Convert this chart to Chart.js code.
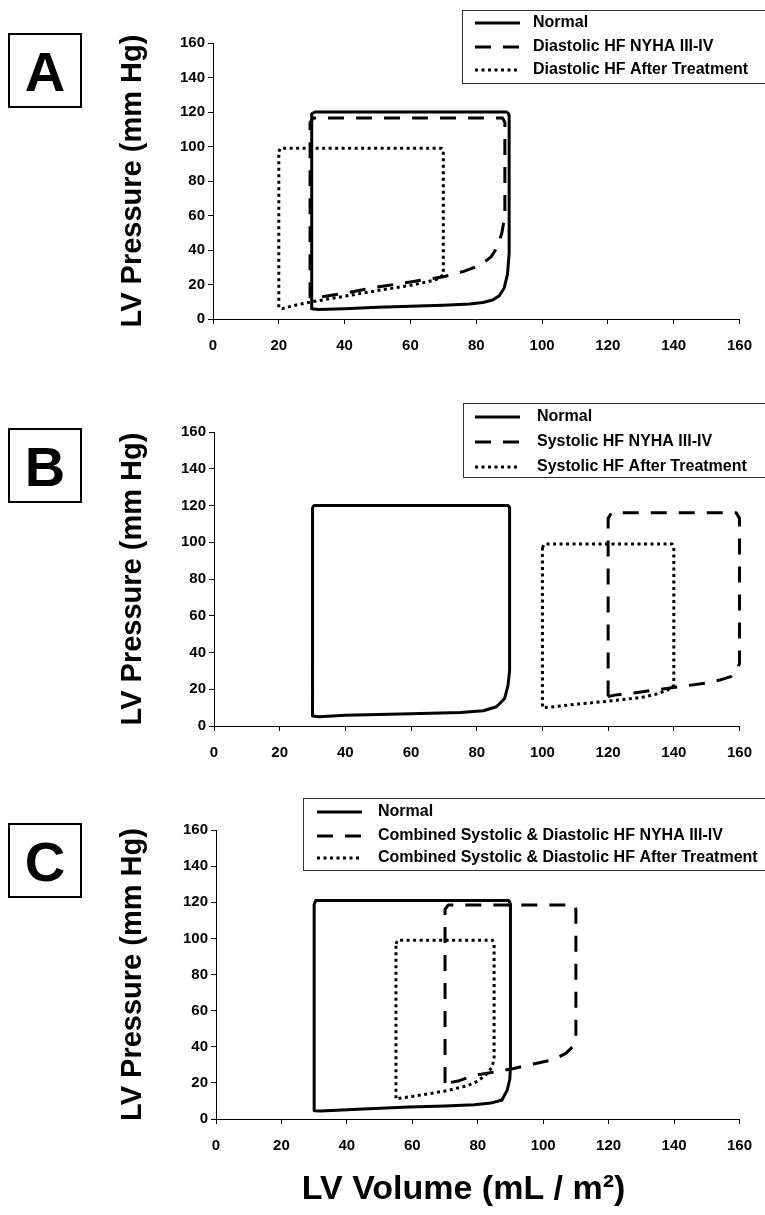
<!DOCTYPE html>
<html>
<head>
<meta charset="utf-8">
<script src="https://cdn.jsdelivr.net/npm/chart.js@4.4.1/dist/chart.umd.min.js"></script>
<style>
  html, body { margin: 0; padding: 0; background: #fff; }
  body { width: 765px; height: 1215px; position: relative; overflow: hidden; font-family: "Liberation Sans", Arial, sans-serif; }
  .panel { position: absolute; left: 0; width: 765px; }
  .letter { position: absolute; left: 8px; width: 70px; height: 71px; border: 2px solid #000; font-weight: bold; font-size: 56px; line-height: 73px; text-align: center; color: #000; }
</style>
</head>
<body>
<div class="panel" style="top:0;height:380px"><canvas id="chartA"></canvas></div>
<div class="panel" style="top:380px;height:390px"><canvas id="chartB"></canvas></div>
<div class="panel" style="top:770px;height:445px"><canvas id="chartC"></canvas></div>
<div class="letter" style="top:33px">A</div>
<div class="letter" style="top:428px">B</div>
<div class="letter" style="top:823px">C</div>

<script>
// axis ticks (mL/m2 and mm Hg)
const volumeTicks = [0, 20, 40, 60, 80, 100, 120, 140, 160];
const pressureTicks = [0, 20, 40, 60, 80, 100, 120, 140, 160];

// legend labels
const labelsA = ["Normal", "Diastolic HF NYHA III-IV", "Diastolic HF After Treatment"];
const labelsB = ["Normal", "Systolic HF NYHA III-IV", "Systolic HF After Treatment"];
const labelsC = ["Normal", "Combined Systolic & Diastolic HF NYHA III-IV", "Combined Systolic & Diastolic HF After Treatment"];

// pressure-volume loops, [volume, pressure]
const normalA = [[89.5,120],[31,120],[30,119],[30,6],[32,5.5],[40,6],[50,6.8],[60,7.4],[70,8],[78,8.7],[82,9.6],[85,11],[87,13.5],[88.5,18],[89.5,26],[90,38],[90,118],[89.5,120]];
const diastolicA = [[29.5,12],[29.5,114],[30.5,116.5],[88,116.5],[88.7,114],[88.7,60],[87.8,50],[86.5,42],[84.5,36],[81,31],[76,27.5],[70,24.5],[60,21.5],[50,18.5],[40,15],[32,12.5],[29.5,12]];
const treatedA = [[20,97],[20.5,99],[69.5,99],[70,97],[70,25.5],[68,23],[65,21.5],[60,19.5],[50,16.5],[40,13.2],[30,10],[25,8],[21,6],[20,6.5],[20,97]];

const normalB = [[30,119],[30.5,120],[89.5,120],[90,119],[90,30],[89.5,22],[88.5,15],[86,10.5],[82,8.3],[75,7.4],[60,6.7],[40,5.8],[32,5],[30,5.5],[30,119]];
const systolicB = [[120,16],[120,113],[121,116],[159,116],[160,113],[160,34],[159,29.5],[157.5,27],[154,25],[150,23.4],[140,21],[130,18.5],[122,16.8],[120,16]];
const treatedB = [[100,97],[100.5,99],[139.5,99],[140,97],[140,22],[138,19.5],[135,17.5],[130,15.5],[120,13.5],[110,11.8],[102,10.2],[100,10],[100,97]];

const normalC = [[30,119],[30.5,121],[89.5,121],[90,119],[90,29],[89.8,22],[89,16],[87.4,10.5],[84,8.8],[79,7.9],[70,7.2],[59,6.6],[45,5.5],[32,4.4],[30,4.5],[30,119]];
const combinedC = [[70,20],[70,116],[71,118.5],[109.5,118.5],[110,116],[110,46],[109,40],[107,36.5],[103.5,33],[97,30.5],[91,28],[85,26],[79,24.2],[74,21],[71,20],[70,20]];
const treatedC = [[55,97],[55.5,99],[84.5,99],[85,97],[85,33],[84.3,28.5],[82.5,24.5],[80,21],[77,18.5],[70,15.5],[65,14],[60,12.5],[56,11.5],[55,11],[55,97]];

const FONT = '"Liberation Sans", Arial, sans-serif';

// boxed legend in the upper right, three rows
const boxLegend = {
  id: 'boxLegend',
  afterDraw(chart, args, opts) {
    const ctx = chart.ctx;
    ctx.save();
    ctx.strokeStyle = '#333';
    ctx.lineWidth = 1;
    ctx.strokeRect(opts.x + 0.5, opts.y + 0.5, opts.w, opts.h);
    ctx.font = 'bold 16px ' + FONT;
    ctx.textBaseline = 'middle';
    ctx.fillStyle = '#000';
    chart.data.datasets.forEach((ds, i) => {
      const y = opts.rows[i];
      ctx.beginPath();
      ctx.setLineDash(ds.borderDash || []);
      ctx.lineWidth = ds.borderWidth;
      ctx.strokeStyle = ds.borderColor;
      ctx.moveTo(opts.lineX, y);
      ctx.lineTo(opts.lineX + opts.lineW, y);
      ctx.stroke();
      ctx.setLineDash([]);
      ctx.fillText(ds.label, opts.textX, y);
    });
    ctx.restore();
  }
};

function loopSet(label, pts, dash) {
  return {
    label: label,
    data: pts.map(p => ({ x: p[0], y: p[1] })),
    showLine: true,
    borderColor: '#000',
    borderWidth: 3,
    borderDash: dash,
    borderCapStyle: 'butt',
    borderJoinStyle: 'round',
    pointRadius: 0,
    fill: false,
    tension: 0,
    clip: false,
  };
}

function makePanel(id, labels, loops, p) {
  const tickFont = { family: FONT, size: 15, weight: 'bold' };
  new Chart(document.getElementById(id), {
    type: 'scatter',
    data: {
      datasets: [
        loopSet(labels[0], loops[0], []),
        loopSet(labels[1], loops[1], [16, 12]),
        loopSet(labels[2], loops[2], [3, 3.5]),
      ],
    },
    options: {
      responsive: true,
      maintainAspectRatio: false,
      animation: false,
      layout: { padding: { top: p.top, right: 765 - p.right, left: 0, bottom: 0 } },
      plugins: { legend: { display: false }, tooltip: { enabled: false }, boxLegend: p.legend },
      scales: {
        x: {
          type: 'linear',
          min: volumeTicks[0],
          max: volumeTicks[volumeTicks.length - 1],
          afterBuildTicks: s => { s.ticks = volumeTicks.map(v => ({ value: v })); },
          ticks: { font: tickFont, color: '#000', padding: 13, maxRotation: 0 },
          grid: { drawOnChartArea: false, tickLength: 5, color: '#000' },
          border: { color: '#000', width: 1 },
          title: {
            display: !!p.xTitle,
            text: p.xTitle || '',
            color: '#000',
            font: { family: FONT, size: 34, weight: 'bold' },
            padding: { top: 0, bottom: 5 },
          },
          afterFit: s => { s.height = p.xHeight; },
        },
        y: {
          type: 'linear',
          min: pressureTicks[0],
          max: pressureTicks[pressureTicks.length - 1],
          afterBuildTicks: s => { s.ticks = pressureTicks.map(v => ({ value: v })); },
          ticks: { font: tickFont, color: '#000', padding: 3 },
          grid: { drawOnChartArea: false, tickLength: 5, color: '#000' },
          border: { color: '#000', width: 1 },
          title: {
            display: true,
            text: 'LV Pressure (mm Hg)',
            color: '#000',
            font: { family: FONT, size: 29, weight: 'bold' },
            padding: { top: 116, bottom: 0 },
          },
          afterFit: s => { s.width = p.left; },
        },
      },
    },
    plugins: [boxLegend],
  });
}

makePanel('chartA', labelsA, [normalA, diastolicA, treatedA], {
  top: 43, left: 213, right: 745, xHeight: 61,
  legend: { x: 462, y: 10, w: 330, h: 73, rows: [23, 47, 70], lineX: 475, lineW: 45, textX: 533 },
});
makePanel('chartB', labelsB, [normalB, systolicB, treatedB], {
  top: 52, left: 214, right: 745, xHeight: 44,
  legend: { x: 463, y: 23, w: 330, h: 74, rows: [37, 62, 87], lineX: 475, lineW: 45, textX: 537 },
});
// trailing spaces nudge the centred title a little left, as in the figure
makePanel('chartC', labelsC, [normalC, combinedC, treatedC], {
  top: 60, left: 216, right: 749, xHeight: 96, xTitle: 'LV Volume (mL / m\u00B2)\u00A0\u00A0\u00A0',
  legend: { x: 303, y: 28, w: 490, h: 72, rows: [42, 66, 88], lineX: 317, lineW: 45, textX: 378 },
});
</script>
</body>
</html>
